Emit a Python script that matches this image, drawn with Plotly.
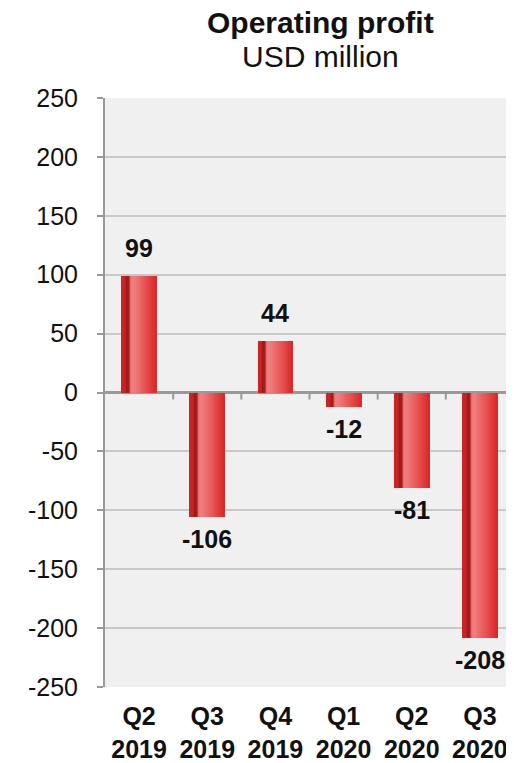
import plotly.graph_objects as go

categories = ["Q2<br>2019", "Q3<br>2019", "Q4<br>2019", "Q1<br>2020", "Q2<br>2020", "Q3<br>2020"]
values = [99, -106, 44, -12, -81, -208]
labels = ["99", "-106", "44", "-12", "-81", "-208"]
y_ticks = [250, 200, 150, 100, 50, 0, -50, -100, -150, -200, -250]
y_tick_text = ["250", "200", "150", "100", "50", "0", "-50", "-100", "-150", "-200", "-250"]

FONT = "Liberation Sans, Arial, sans-serif"
BAR_W = 0.51
N = 36
stops = [(0.00, (208, 36, 36)), (0.12, (200, 32, 32)), (0.15, (160, 26, 26)),
         (0.22, (170, 28, 28)), (0.27, (236, 120, 120)), (0.34, (238, 128, 128)),
         (0.70, (232, 80, 80)), (1.00, (218, 40, 40))]

def col(t):
    for (t0, c0), (t1, c1) in zip(stops[:-1], stops[1:]):
        if t0 <= t <= t1:
            f = (t - t0) / (t1 - t0) if t1 > t0 else 0
            c = [round(a + (b - a) * f) for a, b in zip(c0, c1)]
            return "rgb(%d,%d,%d)" % tuple(c)
    return "rgb(%d,%d,%d)" % stops[-1][1]

xs = list(range(len(categories)))
fig = go.Figure()
w = BAR_W / N
for k in range(N):
    t = (k + 0.5) / N
    fig.add_trace(go.Bar(x=xs, y=values, width=w * 1.05, offset=-BAR_W / 2 + k * w,
                         marker=dict(color=col(t), line=dict(width=0)),
                         hoverinfo="skip", showlegend=False))

for x, v, lab in zip(xs, values, labels):
    fig.add_annotation(x=x, y=v, text="<b>%s</b>" % lab, showarrow=False,
                       yshift=28 if v >= 0 else -22,
                       font=dict(family=FONT, size=25, color="#111111"))

# small tick marks on the zero line at category boundaries
for b in [i + 0.5 for i in xs[:-1]]:
    fig.add_shape(type="line", xref="x", yref="y", x0=b, x1=b, y0=0, y1=-7,
                  ysizemode="pixel", yanchor=0, line=dict(color="#999999", width=2))

fig.add_annotation(xref="paper", yref="paper", x=0.526, y=1, yshift=76, yanchor="middle",
                   text="<b>Operating profit</b>", showarrow=False,
                   font=dict(family=FONT, size=30, color="#111111"))
fig.add_annotation(xref="paper", yref="paper", x=0.526, y=1, yshift=42, yanchor="middle",
                   text="USD million", showarrow=False,
                   font=dict(family=FONT, size=30, color="#111111"))

fig.update_layout(
    width=506, height=755, barmode="overlay", bargap=0,
    margin=dict(l=97, r=0, t=90, b=76),
    paper_bgcolor="white", plot_bgcolor="#f0f0f0",
    xaxis=dict(range=[-0.5, 5.5], tickvals=xs,
               ticktext=["<b>%s</b>" % c for c in categories],
               tickfont=dict(family=FONT, size=25, color="#111111"),
               ticklabelstandoff=12,
               showgrid=False, zeroline=False, showline=False, ticks=""),
    yaxis=dict(range=[-250, 250], tickvals=y_ticks, ticktext=y_tick_text,
               ticks="outside", ticklen=6,
               tickcolor="#999999", tickwidth=2,
               tickfont=dict(family=FONT, size=25, color="#111111"),
               ticklabelstandoff=14,
               showgrid=True, gridcolor="#c8c8c8", gridwidth=1.5,
               zeroline=True, zerolinecolor="#999999", zerolinewidth=2.5,
               showline=True, linecolor="#999999", linewidth=2),
)

fig.write_html("out.html")
